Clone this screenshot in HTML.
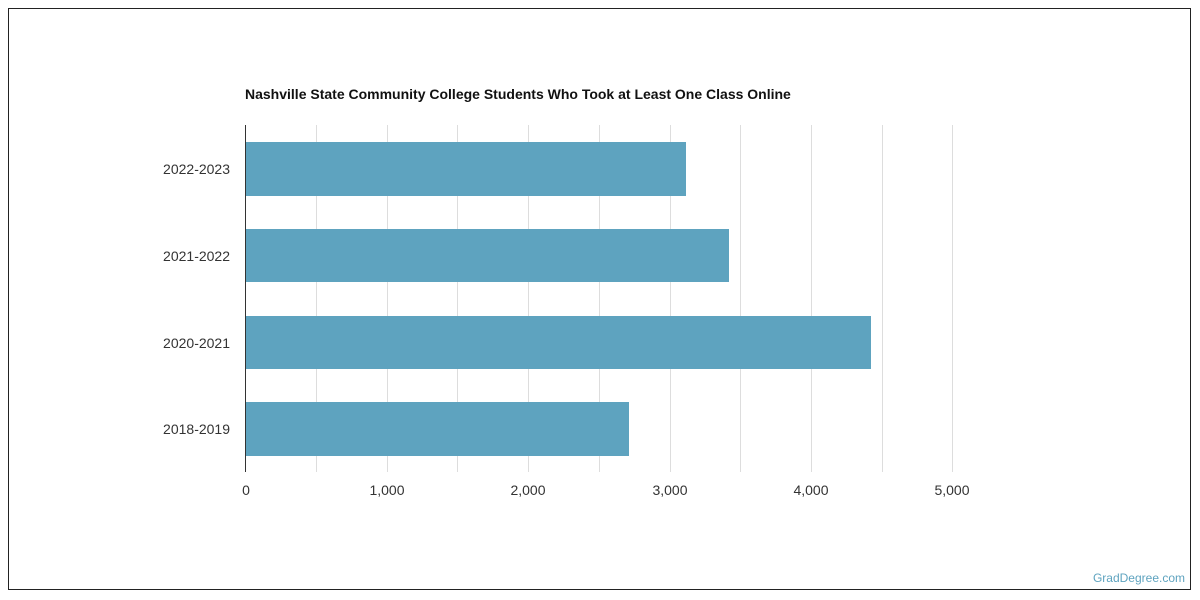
<!DOCTYPE html>
<html><head><style>
body{margin:0;background:#fff;}
svg{display:block;font-family:"Liberation Sans",sans-serif;}
</style></head><body>
<svg width="1200" height="600" xmlns="http://www.w3.org/2000/svg">
<rect x="8.5" y="8.5" width="1182" height="581" fill="#fff" stroke="#222" stroke-width="1"/>
<text x="245" y="99" font-size="14" font-weight="bold" fill="#111">Nashville State Community College Students Who Took at Least One Class Online</text>
<g stroke="#ddd" stroke-width="1">
<line x1="316.5" y1="125" x2="316.5" y2="472"/><line x1="387.5" y1="125" x2="387.5" y2="472"/>
<line x1="457.5" y1="125" x2="457.5" y2="472"/><line x1="528.5" y1="125" x2="528.5" y2="472"/>
<line x1="599.5" y1="125" x2="599.5" y2="472"/><line x1="670.5" y1="125" x2="670.5" y2="472"/>
<line x1="740.5" y1="125" x2="740.5" y2="472"/><line x1="811.5" y1="125" x2="811.5" y2="472"/>
<line x1="882.5" y1="125" x2="882.5" y2="472"/><line x1="952.5" y1="125" x2="952.5" y2="472"/>
</g>
<g fill="#5ea3bf">
<rect x="245" y="142" width="441" height="54"/>
<rect x="245" y="229" width="484" height="53"/>
<rect x="245" y="316" width="626" height="53"/>
<rect x="245" y="402" width="384" height="54"/>
</g>
<line x1="245.5" y1="125" x2="245.5" y2="472" stroke="#333" stroke-width="1"/>
<g font-size="14" fill="#333" text-anchor="end">
<text x="230" y="174">2022-2023</text>
<text x="230" y="261">2021-2022</text>
<text x="230" y="348">2020-2021</text>
<text x="230" y="434">2018-2019</text>
</g>
<g font-size="14" fill="#333" text-anchor="middle">
<text x="246" y="495">0</text><text x="387" y="495">1,000</text>
<text x="528" y="495">2,000</text><text x="670" y="495">3,000</text>
<text x="811" y="495">4,000</text><text x="952" y="495">5,000</text>
</g>
<text x="1185" y="582" font-size="12" fill="#5ea3bf" text-anchor="end">GradDegree.com</text>
</svg>
</body></html>
